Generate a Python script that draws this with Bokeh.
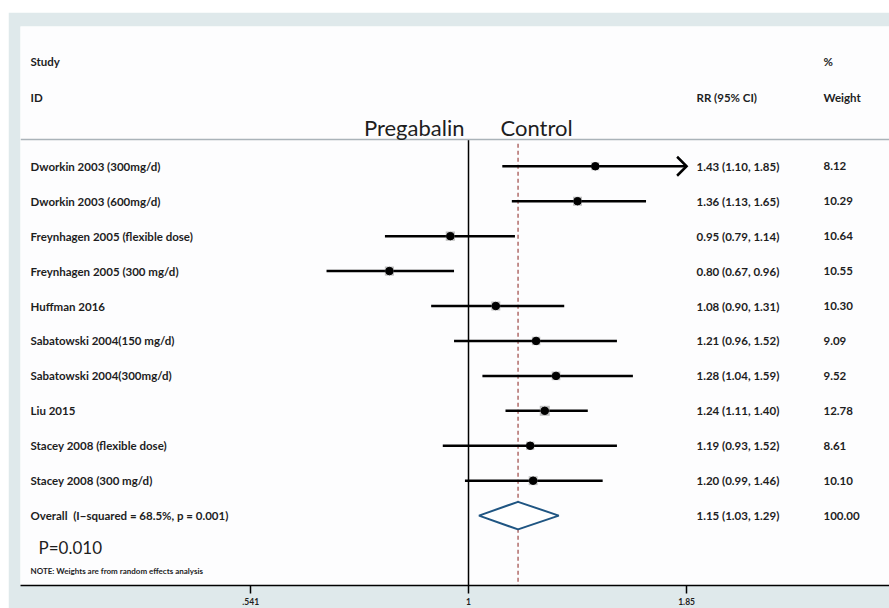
import numpy as np
from bokeh.plotting import figure
from bokeh.models import (ColumnDataSource, Range1d, LinearScale, FixedTicker,
                          Span, LabelSet, Label)
from bokeh.core.properties import value
from bokeh.embed import file_html
from bokeh.resources import INLINE

# ---- data ---------------------------------------------------------------
studies = [
    "Dworkin 2003 (300mg/d)",
    "Dworkin 2003 (600mg/d)",
    "Freynhagen 2005 (flexible dose)",
    "Freynhagen 2005 (300 mg/d)",
    "Huffman 2016",
    "Sabatowski 2004(150 mg/d)",
    "Sabatowski 2004(300mg/d)",
    "Liu 2015",
    "Stacey 2008 (flexible dose)",
    "Stacey 2008 (300 mg/d)",
]
rr = [1.43, 1.36, 0.95, 0.80, 1.08, 1.21, 1.28, 1.24, 1.19, 1.20]
lower = [1.10, 1.13, 0.79, 0.67, 0.90, 0.96, 1.04, 1.11, 0.93, 0.99]
upper = [1.85, 1.65, 1.14, 0.96, 1.31, 1.52, 1.59, 1.40, 1.52, 1.46]
weights = [8.12, 10.29, 10.64, 10.55, 10.30, 9.09, 9.52, 12.78, 8.61, 10.10]

overall_label = "Overall\u00a0 (I\u2212squared = 68.5%, p = 0.001)"
overall_rr, overall_lo, overall_hi = 1.15, 1.03, 1.29
overall_weight = 100.00

axis_ticks = [0.541, 1, 1.85]
axis_tick_labels = [".541", "1", "1.85"]

# ---- styling ------------------------------------------------------------
FONT = "Lato"
TXT = "#1e1e1e"
BAND = "#dfe9eb"

n = len(studies)
rows = list(range(n))
overall_row = n

PLOT_W, PLOT_H = 881, 596
x_lo, x_hi = 0.2826, 3.279
p = figure(width=PLOT_W, height=PLOT_H, margin=(12, 0, 0, 8),
           x_axis_type="log", x_range=Range1d(x_lo, x_hi),
           y_range=Range1d(12.0, -4.0),
           y_axis_location=None, toolbar_location=None,
           output_backend="svg",
           min_border_left=12, min_border_right=0,
           min_border_top=14, min_border_bottom=23)
p.background_fill_color = "#fdfdfe"
p.border_fill_color = BAND
p.outline_line_color = None
p.grid.visible = False

# a linear pixel-like range for placing the text columns
p.extra_x_ranges = {"cols": Range1d(20, 889)}
p.extra_x_scales = {"cols": LinearScale()}

# x axis
ax = p.xaxis[0]
ax.ticker = FixedTicker(ticks=axis_ticks)
ax.major_label_overrides = {t: s for t, s in zip(axis_ticks, axis_tick_labels)}
ax.minor_tick_line_color = None
ax.major_tick_in = 0
ax.major_tick_out = 8
ax.major_tick_line_width = 1.5
ax.axis_line_width = 1.5
ax.axis_line_color = "black"
ax.major_tick_line_color = "black"
ax.major_label_standoff = 4
ax.major_label_text_font = FONT
ax.major_label_text_font_size = "8.5px"
ax.major_label_text_font_style = "bold"
ax.major_label_text_color = TXT

# header separator
header_row = -0.765
p.add_layout(Span(location=header_row, dimension="width",
                  line_color="#aab3b9", line_width=1.5))

# null line and pooled-estimate line
p.segment(x0=[1], y0=[header_row], x1=[1], y1=[12.0],
          line_color="black", line_width=1.5)
p.segment(x0=[overall_rr], y0=[header_row + 0.12], x1=[overall_rr], y1=[12.0],
          line_color="#b06a68", line_width=1.5, line_dash="4 3")

# study confidence intervals
src = ColumnDataSource(dict(
    study=studies, rr=rr, lo=lower, hi=upper, y=rows,
    w=weights, box=[2.8 * np.sqrt(w) for w in weights],
    rr_txt=[f"{a:.2f} ({b:.2f}, {c:.2f})" for a, b, c in zip(rr, lower, upper)],
    w_txt=[f"{w:.2f}" for w in weights],
))
p.segment(x0="lo", y0="y", x1="hi", y1="y", source=src,
          line_color="black", line_width=2.5)

# open arrow head where an interval runs to the edge of the axis
frame_w = PLOT_W - 12
px_per_log = frame_w / np.log(x_hi / x_lo)
row_px = (PLOT_H - 14 - 23) / 16.0
head_len, head_half = 9.5, 9.5
for y, hi in zip(rows, upper):
    if hi >= axis_ticks[-1]:
        back = hi * np.exp(-head_len / px_per_log)
        dy = head_half / row_px
        p.multi_line(xs=[[back, hi, back]], ys=[[y - dy, y, y + dy]],
                     line_color="black", line_width=2.5, line_join="miter")

p.scatter(x="rr", y="y", size="box", marker="square", source=src,
          fill_color="#8c8c8c", fill_alpha=0.55, line_color=None)
p.scatter(x="rr", y="y", size=7.5, marker="circle", source=src,
          fill_color="black", line_color="black")

# pooled diamond
h = 0.395
p.patch(x=[overall_lo, overall_rr, overall_hi, overall_rr, overall_lo],
        y=[overall_row, overall_row - h, overall_row, overall_row + h, overall_row],
        fill_color="white", line_color="#1f5582", line_width=2)

# text columns
set_kw = dict(text_font=value(FONT), text_font_size="11.5px", text_font_style="bold",
              text_color=TXT, text_baseline="middle", x_range_name="cols")
lab_kw = dict(text_font=FONT, text_font_size="11.5px", text_font_style="bold",
              text_color=TXT, text_baseline="middle", x_range_name="cols")
p.add_layout(LabelSet(x=30, y="y", text="study", source=src, **set_kw))
p.add_layout(LabelSet(x=696, y="y", text="rr_txt", source=src, **set_kw))
p.add_layout(LabelSet(x=823, y="y", text="w_txt", source=src, **set_kw))

ov = ColumnDataSource(dict(
    y=[overall_row], name=[overall_label],
    rr_txt=[f"{overall_rr:.2f} ({overall_lo:.2f}, {overall_hi:.2f})"],
    w_txt=[f"{overall_weight:.2f}"],
))
p.add_layout(LabelSet(x=30, y="y", text="name", source=ov, **set_kw))
p.add_layout(LabelSet(x=696, y="y", text="rr_txt", source=ov, **set_kw))
p.add_layout(LabelSet(x=823, y="y", text="w_txt", source=ov, **set_kw))

# column headers
for x, y, t in [(30, -2.995, "Study"), (30, -1.97, "ID"),
                (696, -1.97, "RR (95% CI)"), (823, -2.995, "%"),
                (823, -1.97, "Weight")]:
    p.add_layout(Label(x=x, y=y, text=t, **lab_kw))

# direction labels
big_kw = dict(text_font=FONT, text_font_size="22px", text_color=TXT,
              text_baseline="alphabetic", x_range_name="cols")
p.add_layout(Label(x=464, y=-1.117, text="Pregabalin", text_align="right", **big_kw))
p.add_layout(Label(x=500, y=-1.117, text="Control", text_align="left", **big_kw))

# footer
p.add_layout(Label(x=38, y=10.92, text="P=0.010", text_font=FONT,
                   text_font_size="17px", text_color=TXT,
                   text_baseline="middle", x_range_name="cols"))
p.add_layout(Label(x=30, y=11.58, text="NOTE: Weights are from random effects analysis",
                   text_font=FONT, text_font_size="8px", text_font_style="bold",
                   text_color=TXT, text_baseline="middle", x_range_name="cols"))

open("out.html", "w").write(file_html(p, INLINE))
